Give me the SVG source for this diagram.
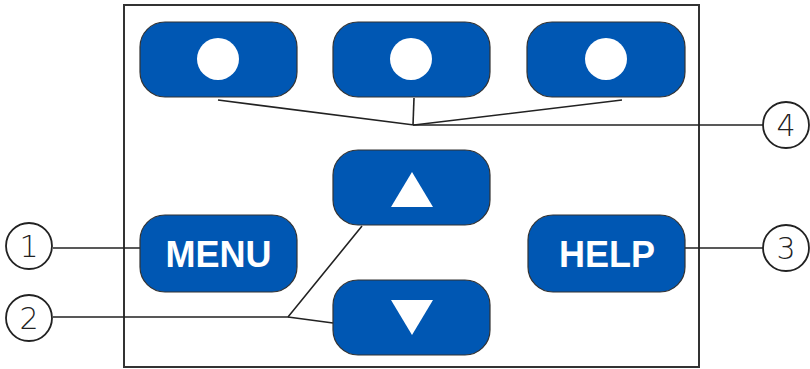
<svg xmlns="http://www.w3.org/2000/svg" width="810" height="369" viewBox="0 0 810 369">
<style>
.btn{fill:#0057b3;stroke:#333;stroke-width:1.2}
.ico{fill:#fff}
.lbl{fill:#fff;font-family:"Liberation Sans",Arial,sans-serif;font-weight:bold;font-size:36px;text-anchor:middle}
.ln{stroke:#222;stroke-width:1.6;fill:none}
.cal{fill:#fff;stroke:#222;stroke-width:1.8}
.num{fill:#222;font-family:"DejaVu Sans",sans-serif;font-weight:300;font-size:30px;text-anchor:middle}
</style>
<rect x="124" y="5" width="575" height="362" fill="#fff" stroke="#333" stroke-width="2"/>
<g id="connectors">
<polyline class="ln" points="218,100 414,125 622,100"/>
<line class="ln" x1="414" y1="98" x2="413" y2="125"/>
<line class="ln" x1="413" y1="125" x2="763" y2="125"/>
<line class="ln" x1="53" y1="248" x2="140" y2="248"/>
<polyline class="ln" points="53,317 288,317 362,226"/>
<line class="ln" x1="288" y1="317" x2="333" y2="323"/>
<line class="ln" x1="685" y1="248" x2="763" y2="248"/>
</g>
<g id="btn-top-1"><rect class="btn" x="140" y="22" width="157" height="75" rx="25"/><circle class="ico" cx="218" cy="59" r="21"/></g>
<g id="btn-top-2"><rect class="btn" x="333" y="22" width="157" height="75" rx="25"/><circle class="ico" cx="411" cy="59" r="21"/></g>
<g id="btn-top-3"><rect class="btn" x="527" y="22" width="158" height="75" rx="25"/><circle class="ico" cx="606" cy="59" r="21"/></g>
<g id="btn-up"><rect class="btn" x="333" y="150" width="157" height="75" rx="25"/><polygon class="ico" points="412,172 433,207 391,207"/></g>
<g id="btn-down"><rect class="btn" x="333" y="280" width="157" height="75" rx="25"/><polygon class="ico" points="391,300 433,300 412,335"/></g>
<g id="btn-menu"><rect class="btn" x="140" y="215" width="157" height="77" rx="25"/><text class="lbl" x="218.5" y="267">MENU</text></g>
<g id="btn-help"><rect class="btn" x="528" y="215" width="157" height="77" rx="25"/><text class="lbl" x="607" y="267">HELP</text></g>
<g id="callout-1"><circle class="cal" cx="29" cy="246" r="23"/><text class="num" x="29" y="257">1</text></g>
<g id="callout-2"><circle class="cal" cx="29" cy="318" r="23"/><text class="num" x="29" y="329">2</text></g>
<g id="callout-3"><circle class="cal" cx="786" cy="248" r="23"/><text class="num" x="786" y="259">3</text></g>
<g id="callout-4"><circle class="cal" cx="786" cy="125" r="23"/><text class="num" x="786" y="136">4</text></g>
</svg>
